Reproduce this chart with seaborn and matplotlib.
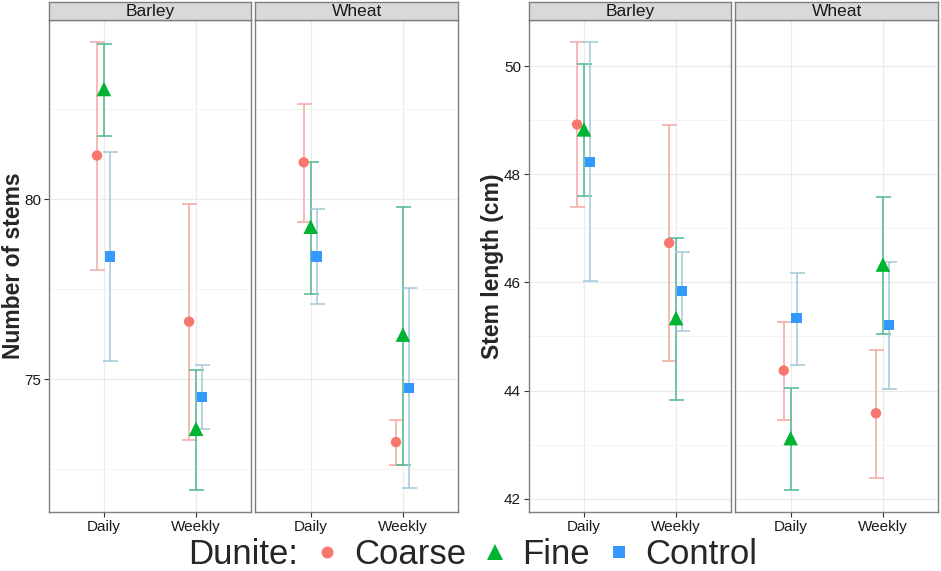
import matplotlib
matplotlib.use("Agg")
import matplotlib.pyplot as plt
from matplotlib.lines import Line2D
import numpy as np
import pandas as pd
import seaborn as sns

crops = ["Barley", "Wheat"]
treatments = ["Daily", "Weekly"]
dunite = ["Coarse", "Fine", "Control"]

# order: crop -> treatment -> dunite
stems_mean = [81.22, 83.07, 78.41, 76.60, 73.62, 74.50,
              81.03, 79.24, 78.41, 73.25, 76.24, 74.75]
stems_lo = [78.03, 81.75, 75.51, 73.32, 71.93, 73.62,
            79.37, 77.37, 77.09, 72.61, 72.61, 71.96]
stems_hi = [84.39, 84.31, 81.31, 79.87, 75.25, 75.38,
            82.66, 81.05, 79.73, 73.86, 79.78, 77.53]

length_mean = [48.92, 48.83, 48.23, 46.73, 45.34, 45.84,
               44.37, 43.12, 45.34, 43.58, 46.33, 45.21]
length_lo = [47.39, 47.59, 46.02, 44.54, 43.83, 45.11,
             43.45, 42.16, 44.48, 42.39, 45.04, 44.03]
length_hi = [50.44, 50.04, 50.44, 48.91, 46.83, 46.57,
             45.27, 44.04, 46.18, 44.75, 47.58, 46.37]

point_colors = {"Coarse": "#F8766D", "Fine": "#00B332", "Control": "#3399FF"}
bar_colors = {"Coarse": "#F2A8A2", "Fine": "#4DB88E", "Control": "#A3C7D9"}
markers = {"Coarse": "o", "Fine": "^", "Control": "s"}
sizes = {"Coarse": 56, "Fine": 110, "Control": 56}
dodge = {"Coarse": -0.075, "Fine": 0.0, "Control": 0.065}

sns.set_theme(style="white")
plt.rcParams["font.family"] = ["Liberation Sans", "DejaVu Sans"]

W, H = 941, 571
fig = plt.figure(figsize=(W / 100, H / 100), dpi=100)


def rect(x0, x1, y0, y1):
    return [x0 / W, 1 - y1 / H, (x1 - x0) / W, (y1 - y0) / H]


def make_df(mean, lo, hi):
    rows = []
    i = 0
    for c in crops:
        for t in treatments:
            for d in dunite:
                rows.append(dict(crop=c, treatment=t, dunite=d,
                                 mean=mean[i], lo=lo[i], hi=hi[i]))
                i += 1
    df = pd.DataFrame(rows)
    df["x"] = df["treatment"].map({t: k for k, t in enumerate(treatments)}) \
        + df["dunite"].map(dodge)
    return df


def draw_chart(df, xs, ylim, major, minor, ylabel, label_x):
    top, bottom = 19.6, 512.2
    for k, crop in enumerate(crops):
        x0, x1 = xs[k]
        ax = fig.add_axes(rect(x0, x1, top, bottom))
        sub = df[df["crop"] == crop]
        for d in dunite:
            s = sub[sub["dunite"] == d]
            ax.errorbar(s["x"], s["mean"],
                        yerr=[s["mean"] - s["lo"], s["hi"] - s["mean"]],
                        fmt="none", ecolor=bar_colors[d], elinewidth=1.1,
                        capsize=5.4, capthick=1.1, zorder=2)
        sns.scatterplot(data=sub, x="x", y="mean", hue="dunite", style="dunite",
                        size="dunite", palette=point_colors, markers=markers,
                        sizes=sizes, linewidth=0, legend=False, ax=ax, zorder=3)
        ax.set_xlim(-0.6, 1.6)
        ax.set_ylim(*ylim)
        ax.set_xticks(range(len(treatments)))
        ax.set_xticklabels(treatments)
        ax.set_yticks(major)
        ax.set_yticks(minor, minor=True)
        ax.grid(True, which="major", color="#EBEBEB", lw=0.9)
        ax.grid(True, which="minor", axis="y", color="#F4F4F4", lw=0.7)
        ax.set_axisbelow(True)
        ax.tick_params(axis="both", which="major", length=3.5, width=0.8,
                       color="#333333", labelsize=11, labelcolor="#1A1A1A",
                       pad=2, bottom=True, left=True)
        ax.tick_params(axis="y", which="minor", length=0)
        ax.set_xlabel("")
        ax.set_ylabel("")
        if k > 0:
            ax.set_yticklabels([])
            ax.tick_params(axis="y", which="major", length=0)
        for sp in ax.spines.values():
            sp.set_color("#7F7F7F")
            sp.set_linewidth(1.0)
        # facet strip
        st = fig.add_axes(rect(x0, x1, 1.7, top))
        st.set_facecolor("#D9D9D9")
        st.set_xticks([])
        st.set_yticks([])
        for sp in st.spines.values():
            sp.set_color("#7F7F7F")
            sp.set_linewidth(1.0)
        st.text(0.5, 0.45, crop, ha="center", va="center", fontsize=12.5,
                color="#1A1A1A", transform=st.transAxes)
    fig.text(label_x / W, 1 - (top + bottom) / 2 / H, ylabel, rotation=90,
             ha="center", va="center", fontsize=16.5, fontweight="bold")


stems = make_df(stems_mean, stems_lo, stems_hi)
length = make_df(length_mean, length_lo, length_hi)

draw_chart(stems, [(48.7, 251.3), (255.3, 458.3)], (71.30, 85.0),
           [75, 80], [72.5, 77.5, 82.5], "Number of stems", 14)
draw_chart(length, [(528.7, 731.3), (735.3, 938.3)], (41.75, 50.86),
           [42, 44, 46, 48, 50], [43, 45, 47, 49], "Stem length (cm)", 492)

# legend
fig.text(187.7 / W, 1 - 555 / H, "Dunite:", ha="left", va="center", fontsize=25)
handles = [Line2D([], [], ls="none", marker=markers[d], color=point_colors[d],
                  markersize=8.6 if d != "Fine" else 11.2, markeredgewidth=0)
           for d in dunite]
fig.legend(handles, dunite, loc="center left",
           bbox_to_anchor=(318.3 / W, 1 - 555 / H), ncol=3, frameon=False,
           fontsize=25, handlelength=0.5, handletextpad=0.53,
           columnspacing=0.58, borderpad=0, borderaxespad=0)

fig.savefig("out.png", dpi=100)
